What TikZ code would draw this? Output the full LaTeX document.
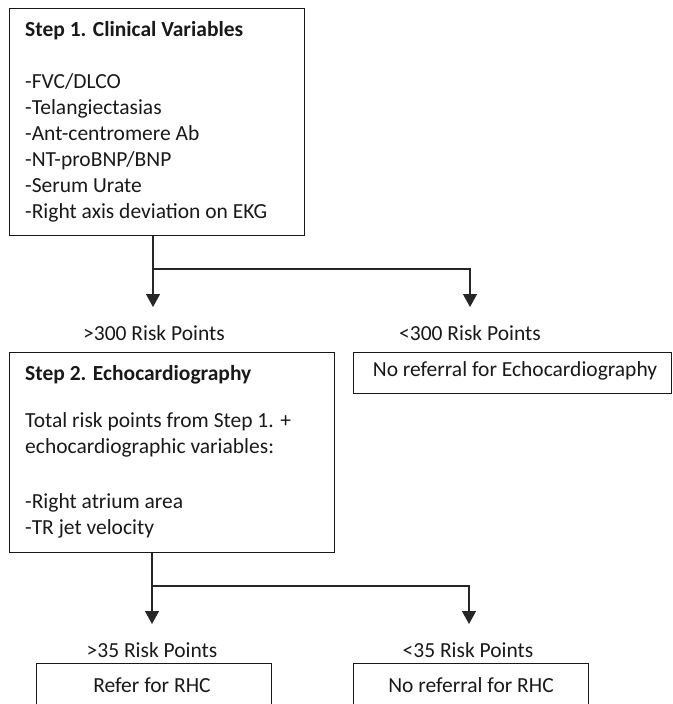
\documentclass[tikz,border=0pt]{standalone}
\usepackage{fontspec}
\setmainfont{Carlito}
\usetikzlibrary{arrows.meta}
\begin{document}
\begin{tikzpicture}[x=1pt,y=-1pt,
  box/.style={draw=black!90,line width=1.3pt,inner sep=0pt,anchor=north west},
  txt/.style={inner sep=0pt,text=black!90,font=\fontsize{21.5}{26}\selectfont,anchor=base west},
  lbl/.style={inner sep=0pt,text=black!90,font=\fontsize{21.5}{26}\selectfont,anchor=base},
  conn/.style={line width=1.3pt,draw=black!85},
  arr/.style={conn,-{Triangle[width=14pt,length=13pt]}}]
\useasboundingbox (0,0) rectangle (672,704);
\clip (0,0) rectangle (672,704);
% boxes
\node[box,minimum width=295pt,minimum height=227pt] (box1) at (9,8) {};
\node[box,minimum width=325pt,minimum height=200pt] (box2) at (9,352) {};
\node[box,minimum width=318pt,minimum height=41pt] (noecho) at (353,352) {};
\node[box,minimum width=235pt,minimum height=60pt] (refer) at (36,663) {};
\node[box,minimum width=235pt,minimum height=60pt] (norhc) at (353,663) {};
% texts
\node[txt] (t1) at (25,36) {\bfseries Step 1. Clinical Variables};
\node[txt] (t1a) at (25,88) {-FVC/DLCO};
\node[txt] (t1b) at (25,114) {-Telangiectasias};
\node[txt] (t1c) at (25,140) {-Ant-centromere Ab};
\node[txt] (t1d) at (25,166) {-NT-proBNP/BNP};
\node[txt] (t1e) at (25,192) {-Serum Urate};
\node[txt] (t1f) at (25,218) {-Right axis deviation on EKG};
\node[txt] (t2) at (25,380) {\bfseries Step 2. Echocardiography};
\node[txt] (t2a) at (25,427) {Total risk points from Step 1. +};
\node[txt] (t2b) at (25,453) {echocardiographic variables:};
\node[txt] (t2c) at (25,508) {-Right atrium area};
\node[txt] (t2d) at (25,534) {-TR jet velocity};
\node[lbl] (noechot) at (515,376) {No referral for Echocardiography};
\node[lbl] (refert) at (152,692) {Refer for RHC};
\node[lbl] (norhct) at (471,692) {No referral for RHC};
\node[lbl] (l1) at (154,340) {>300 Risk Points};
\node[lbl] (l2) at (470,340) {<300 Risk Points};
\node[lbl] (l3) at (152,657) {>35 Risk Points};
\node[lbl] (l4) at (468,657) {<35 Risk Points};
% connectors
\coordinate (j1) at (153,269);
\coordinate (a1) at (153,307);
\coordinate (a2) at (470,307);
\draw[arr] (box1.south -| j1) -- (a1);
\draw[arr] (j1) -| (a2);
\coordinate (j2) at (152,586);
\coordinate (a3) at (152,624);
\coordinate (a4) at (469,624);
\draw[arr] (box2.south -| j2) -- (a3);
\draw[arr] (j2) -| (a4);
\end{tikzpicture}
\end{document}
